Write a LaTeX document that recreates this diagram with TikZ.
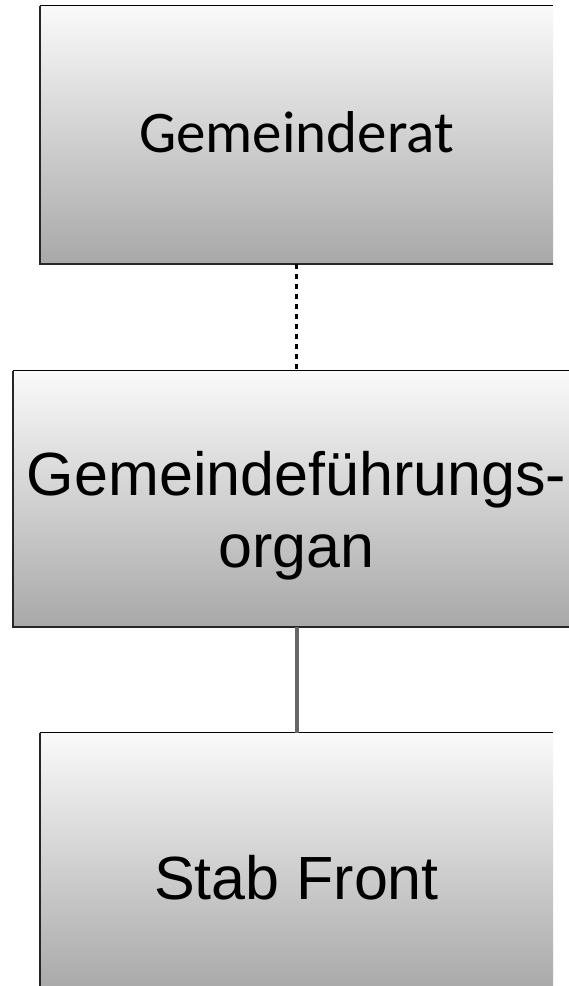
\documentclass[tikz,border=0pt]{standalone}
\usepackage{fontspec}
\newfontfamily\calfont{Carlito}
\newfontfamily\arialfont{Liberation Sans}

\begin{document}
\begin{tikzpicture}[x=1pt,y=-1pt,
  orgbox/.style={rectangle, inner sep=0pt, shading=axis, top color=black!2, middle color=black!13, bottom color=black!34, minimum width=513pt, minimum height=258pt},
  rim/.style={black, line width=.8pt},
  side/.style={black!85, line width=2pt}]
\useasboundingbox (0,0) rectangle (569,986);
\clip (0,0) rectangle (569,986);
\node[orgbox, text height=34pt, text depth=0pt, font=\calfont\fontsize{59}{70}\selectfont] (rat) at (296.5,135) {Gemeinderat};
\node[orgbox, minimum width=567pt, minimum height=256pt, align=center, text height=136pt, text depth=0pt, font=\arialfont\fontsize{61}{72}\selectfont] (organ) at (296.5,499) {Gemeindeführungs-\\organ};
\node[orgbox, text height=74pt, text depth=0pt, font=\arialfont\fontsize{61}{72}\selectfont] (front) at (296.5,862) {Stab Front};
\foreach \b in {rat,organ,front} {
 \draw[rim] (\b.north west) -- (\b.north east);
 \draw[side] (\b.north west) -- (\b.south west) -- (\b.south east);
}
\draw[black, line width=3.5pt, dash pattern=on 5pt off 5pt] (rat.south) -- (organ.north);
\draw[black!60, line width=4pt] (organ.south) -- (front.north);
\end{tikzpicture}
\end{document}
